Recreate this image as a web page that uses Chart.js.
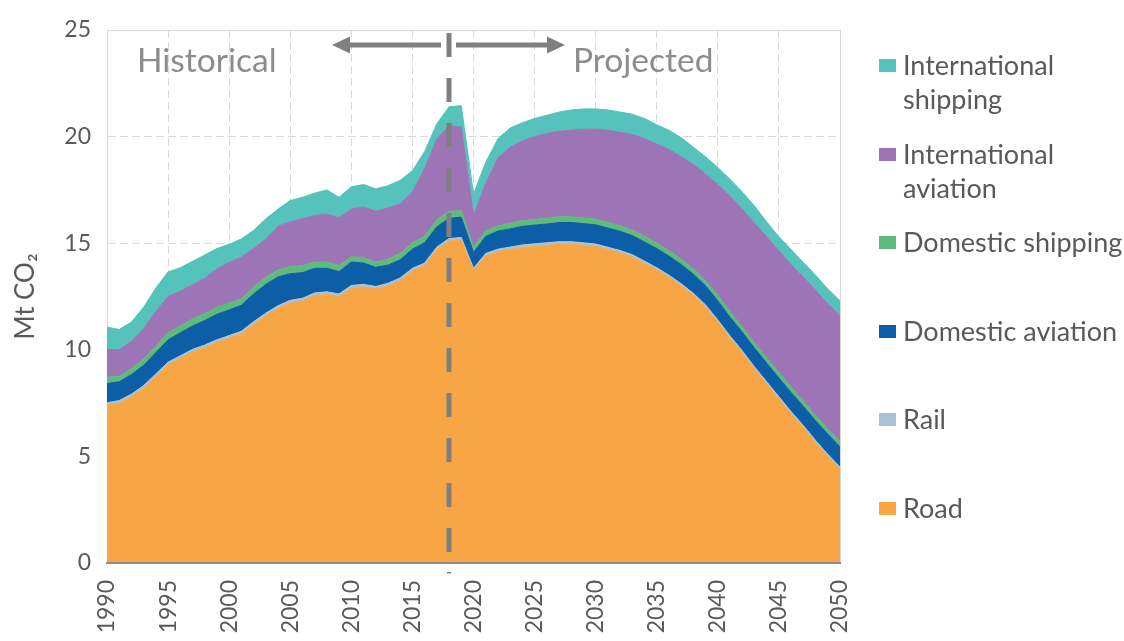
<!DOCTYPE html>
<html>
<head>
<meta charset="utf-8">
<script src="https://cdn.jsdelivr.net/npm/chart.js@4.4.0/dist/chart.umd.min.js"></script>
<style>
html,body{margin:0;padding:0;background:#fff;}
#wrap{position:relative;width:1124px;height:641px;overflow:hidden;}
#c{position:absolute;left:0;top:0;}
.item{position:absolute;left:879px;font-family:Lato,sans-serif;font-size:27px;line-height:34px;color:#595959;}
.sw{position:absolute;left:0;width:17px;height:13px;}
.lbl{position:absolute;left:24px;top:0;white-space:pre;}
</style>
</head>
<body>
<div id="wrap">
  <canvas id="c" width="1124" height="641"></canvas>
  <div id="legend"></div>
</div>
<script>
const years = [1990,1991,1992,1993,1994,1995,1996,1997,1998,1999,
  2000,2001,2002,2003,2004,2005,2006,2007,2008,2009,
  2010,2011,2012,2013,2014,2015,2016,2017,2018,2019,
  2020,2021,2022,2023,2024,2025,2026,2027,2028,2029,
  2030,2031,2032,2033,2034,2035,2036,2037,2038,2039,
  2040,2041,2042,2043,2044,2045,2046,2047,2048,2049,2050];

const road = [7.4,7.5,7.8,8.2,8.75,9.3,9.6,9.9,10.1,10.35,
  10.55,10.75,11.2,11.6,11.95,12.2,12.3,12.55,12.6,12.5,
  12.9,12.95,12.85,13.0,13.25,13.7,13.95,14.7,15.1,15.15,
  13.7,14.4,14.6,14.7,14.8,14.85,14.9,14.95,14.95,14.9,
  14.85,14.7,14.55,14.35,14.05,13.75,13.4,13.0,12.55,12.0,
  11.3,10.55,9.85,9.1,8.4,7.7,7.0,6.35,5.65,5.0,4.4];

const rail = [0.12,0.12,0.12,0.12,0.12,0.12,0.12,0.12,0.12,0.12,
  0.12,0.12,0.12,0.12,0.12,0.12,0.12,0.12,0.12,0.12,
  0.12,0.12,0.12,0.12,0.12,0.12,0.12,0.12,0.12,0.12,
  0.12,0.12,0.12,0.12,0.12,0.12,0.12,0.12,0.12,0.12,
  0.11,0.11,0.11,0.11,0.11,0.10,0.10,0.10,0.10,0.10,
  0.10,0.10,0.10,0.10,0.10,0.10,0.10,0.10,0.10,0.10,0.10];

const domesticAviation = [0.9,0.88,0.92,0.95,1.0,1.05,1.08,1.1,1.15,1.2,
  1.2,1.22,1.3,1.35,1.35,1.25,1.2,1.15,1.1,1.05,
  1.1,1.0,0.9,0.85,0.85,0.9,0.95,0.95,0.95,0.95,
  0.75,0.8,0.85,0.85,0.87,0.88,0.88,0.9,0.9,0.9,
  0.9,0.9,0.9,0.9,0.9,0.9,0.9,0.9,0.9,0.9,
  0.9,0.88,0.88,0.88,0.88,0.88,0.9,0.9,0.92,0.95,0.95];

const domesticShipping = [0.3,0.25,0.28,0.3,0.3,0.33,0.33,0.33,0.33,0.33,
  0.33,0.3,0.33,0.33,0.33,0.33,0.33,0.3,0.3,0.28,
  0.25,0.25,0.25,0.28,0.3,0.3,0.32,0.33,0.33,0.3,
  0.25,0.25,0.25,0.27,0.27,0.27,0.27,0.27,0.27,0.27,
  0.27,0.26,0.26,0.26,0.26,0.26,0.25,0.25,0.25,0.25,
  0.25,0.25,0.25,0.25,0.25,0.25,0.25,0.25,0.25,0.25,0.25];

const internationalAviation = [1.3,1.25,1.28,1.43,1.63,1.7,1.62,1.6,1.65,1.8,
  1.9,1.96,1.8,1.8,2.05,2.1,2.2,2.18,2.23,2.25,
  2.23,2.38,2.38,2.4,2.33,2.38,3.16,3.8,4.0,3.93,
  1.48,2.23,3.18,3.56,3.74,3.88,3.98,4.01,4.06,4.16,
  4.22,4.33,4.38,4.48,4.58,4.64,4.75,4.8,4.9,5.0,
  5.2,5.42,5.52,5.62,5.67,5.72,5.75,5.8,5.88,5.85,5.9];

const internationalShipping = [1.05,0.95,0.9,1.0,1.1,1.15,1.1,1.1,1.1,0.95,
  0.85,0.85,0.85,0.95,0.8,1.0,1.0,1.05,1.15,0.95,
  1.05,1.05,1.05,1.05,1.1,1.0,0.8,0.7,0.9,1.0,
  1.0,1.0,0.9,0.9,0.85,0.85,0.85,0.9,0.95,0.95,
  0.95,0.95,0.95,0.95,0.95,0.9,0.9,0.9,0.8,0.8,
  0.8,0.8,0.8,0.8,0.7,0.65,0.7,0.7,0.7,0.7,0.7];

const seriesNames = ['Road','Rail','Domestic aviation','Domestic shipping','International aviation','International shipping'];
const legendLabels = ['Road','Rail','Domestic aviation','Domestic shipping','International\naviation','International\nshipping'];
const seriesColors = ['#F8A645','#A9C2D6','#0C5EA6','#5FBB7C','#9D74B5','#55C2BC'];
const seriesData = [road, rail, domesticAviation, domesticShipping, internationalAviation, internationalShipping];
const yTicks = [0,5,10,15,20,25];
const dividerYear = 2018;

const FONT = 'Lato, "Open Sans", sans-serif';

const datasets = seriesNames.map((n,i)=>({
  label: n,
  data: seriesData[i],
  backgroundColor: seriesColors[i],
  borderColor: seriesColors[i],
  borderWidth: 1,
  pointRadius: 0,
  tension: 0,
  fill: i === 0 ? 'origin' : '-1'
}));

const annot = {
  id: 'annot',
  beforeDatasetsDraw(chart) {
    const {ctx, chartArea: a} = chart;
    ctx.save();
    ctx.strokeStyle = '#d9d9d9';
    ctx.lineWidth = 1;
    ctx.setLineDash([]);
    ctx.beginPath();
    ctx.moveTo(a.left, a.top + 0.5); ctx.lineTo(a.right, a.top + 0.5);
    ctx.moveTo(a.right + 0.5, a.top); ctx.lineTo(a.right + 0.5, a.bottom);
    ctx.stroke();
    ctx.restore();
  },
  afterDatasetsDraw(chart) {
    const {ctx, chartArea: a, scales: {x}} = chart;
    const xm = Math.round(x.getPixelForValue(years.indexOf(dividerYear)));
    ctx.save();
    ctx.strokeStyle = '#7f7f7f';
    ctx.fillStyle = '#7f7f7f';
    ctx.lineWidth = 5;
    ctx.setLineDash([24, 21]);
    ctx.beginPath();
    ctx.moveTo(xm, a.top + 3);
    ctx.lineTo(xm, a.bottom - 8);
    ctx.stroke();
    ctx.setLineDash([]);
    ctx.fillRect(xm - 2, a.bottom + 9, 4, 1.5);
    const ay = a.top + 15;
    ctx.lineWidth = 5;
    ctx.beginPath();
    ctx.moveTo(xm - 8, ay); ctx.lineTo(xm - 100, ay);
    ctx.moveTo(xm + 7, ay); ctx.lineTo(xm + 99, ay);
    ctx.stroke();
    ctx.beginPath();
    ctx.moveTo(xm - 117, ay); ctx.lineTo(xm - 99, ay - 8.5); ctx.lineTo(xm - 99, ay + 8.5); ctx.closePath();
    ctx.fill();
    ctx.beginPath();
    ctx.moveTo(xm + 116, ay); ctx.lineTo(xm + 98, ay - 8.5); ctx.lineTo(xm + 98, ay + 8.5); ctx.closePath();
    ctx.fill();
    ctx.fillStyle = '#8c8c8c';
    ctx.font = '33.5px ' + FONT;
    ctx.textBaseline = 'alphabetic';
    ctx.textAlign = 'left';
    ctx.fillText('Historical', a.left + 30, a.top + 42);
    ctx.fillText('Projected', xm + 124, a.top + 42);
    ctx.restore();
  }
};

new Chart(document.getElementById('c'), {
  type: 'line',
  data: { labels: years.map(String), datasets },
  plugins: [annot],
  options: {
    responsive: false,
    animation: false,
    devicePixelRatio: 1,
    layout: { padding: { left: 0, top: 30, right: 284, bottom: 0 } },
    plugins: { legend: { display: false }, tooltip: { enabled: false } },
    elements: { line: { borderJoinStyle: 'round' } },
    scales: {
      x: {
        type: 'category',
        offset: false,
        afterFit(s) { s.height = 78; },
        grid: {
          drawTicks: false,
          color: (c) => (c.tick && years[c.index] % 5 === 0) ? '#d9d9d9' : 'rgba(0,0,0,0)',
          lineWidth: 1
        },
        border: { display: true, color: '#8c8c8c', width: 2, dash: [8, 4], z: 1 },
        ticks: {
          autoSkip: false,
          maxRotation: 90,
          minRotation: 90,
          padding: 17,
          color: '#595959',
          font: { family: FONT, size: 23 },
          callback: (v, i) => (years[i] % 5 === 0 ? String(years[i]) : '')
        }
      },
      y: {
        stacked: true,
        min: 0,
        max: 25,
        afterFit(s) { s.width = 107; },
        afterBuildTicks(s) { s.ticks = yTicks.map(v => ({ value: v })); },
        grid: { drawTicks: false, color: '#d9d9d9', lineWidth: 1 },
        border: { display: true, color: '#d9d9d9', width: 1, dash: [8, 4] },
        ticks: {
          padding: 16,
          color: '#595959',
          font: { family: FONT, size: 23 }
        },
        title: {
          display: true,
          text: 'Mt CO\u2082',
          color: '#595959',
          font: { family: FONT, size: 26 },
          padding: { top: 10, bottom: 0 }
        }
      }
    }
  }
});

const legendBaselines = [75, 164, 252, 341, 429, 518];
const lg = document.getElementById('legend');
for (let k = 0; k < seriesNames.length; k++) {
  const i = seriesNames.length - 1 - k;
  const it = document.createElement('div');
  it.className = 'item';
  it.style.top = (legendBaselines[k] - 27) + 'px';
  const sw = document.createElement('div');
  sw.className = 'sw';
  sw.style.background = seriesColors[i];
  sw.style.top = '11px';
  const lb = document.createElement('div');
  lb.className = 'lbl';
  lb.textContent = legendLabels[i];
  it.appendChild(sw); it.appendChild(lb);
  lg.appendChild(it);
}
</script>
</body>
</html>
